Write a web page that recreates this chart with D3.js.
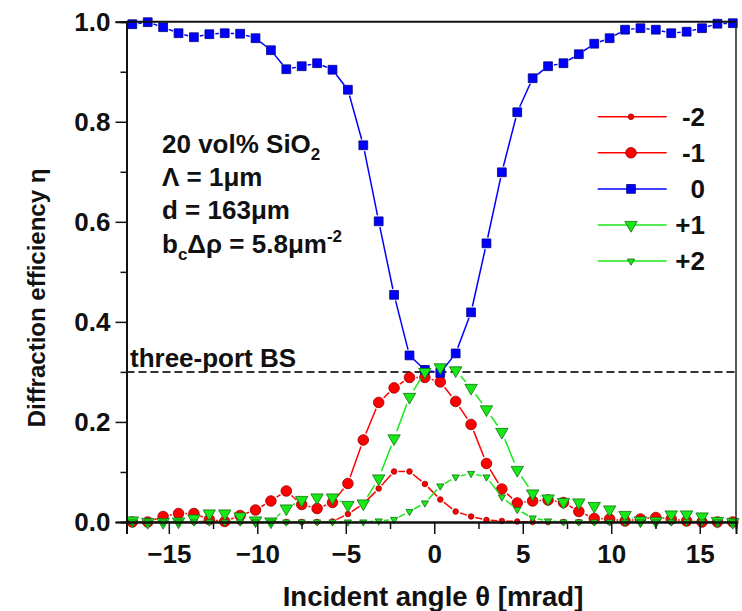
<!DOCTYPE html>
<html><head><meta charset="utf-8">
<script src="https://cdn.jsdelivr.net/npm/d3@7"></script>
<style>
body{margin:0;background:#fff}
svg{display:block}
text{font-family:"Liberation Sans",Arial,sans-serif;font-weight:bold;fill:#111}
</style>
</head><body>
<svg id="c" width="742" height="611"></svg>
<script>
// ---- data ----
const theta = [-17.06,-16.19,-15.32,-14.45,-13.58,-12.71,-11.84,-10.97,-10.10,-9.23,
  -8.36,-7.49,-6.62,-5.75,-4.88,-4.01,-3.14,-2.27,-1.40,-0.53,
  0.34,1.21,2.08,2.95,3.82,4.69,5.56,6.43,7.30,8.17,
  9.04,9.91,10.78,11.65,12.52,13.39,14.26,15.13,16.00,16.87];
const etaM2 = [0,0,0,0,0,0.002,0,0,0,0,
  0,0,0,0.001,0.016,0.036,0.067,0.101,0.101,0.076,
  0.045,0.021,0.011,0.004,0.002,0.001,0,0,0,0,
  0,0,0,0,0,0,0,0,0,0];
const etaM1 = [0,0,0.011,0.017,0.017,0.005,0.001,0.013,0.024,0.042,
  0.062,0.035,0.027,0.039,0.077,0.164,0.239,0.268,0.289,0.289,
  0.280,0.241,0.195,0.117,0.066,0.038,0.042,0.044,0.039,0.021,
  0.007,0.006,0.002,0.006,0.009,0.006,0.002,0,0,0];
const eta0 = [0.995,0.999,0.989,0.977,0.969,0.975,0.977,0.976,0.967,0.943,
  0.905,0.911,0.917,0.904,0.864,0.753,0.601,0.454,0.333,0.304,
  0.298,0.337,0.419,0.557,0.699,0.819,0.887,0.911,0.917,0.935,
  0.956,0.967,0.984,0.987,0.984,0.977,0.980,0.987,0.996,0.997];
const etaP1 = [0.003,0,0,0.001,0.007,0.017,0.017,0.011,0.003,0.001,
  0.027,0.044,0.049,0.049,0.034,0.037,0.087,0.167,0.250,0.300,
  0.309,0.303,0.268,0.225,0.180,0.104,0.057,0.047,0.040,0.039,
  0.032,0.025,0.014,0.003,0.002,0.015,0.015,0.011,0.002,0];
const etaP2 = [0,0,0,0,0,0,0,0,0,0,
  0,0,0,0,0,0,0.002,0.005,0.021,0.038,
  0.072,0.090,0.097,0.090,0.050,0.025,0.008,0.002,0,0,
  0,0,0,0,0,0,0,0,0,0];
const orderLabels = ["-2","-1","0","+1","+2"];
const xMajorTicks = [-15,-10,-5,0,5,10,15];
const xMinorTicks = [-12.5,-7.5,-2.5,2.5,7.5,12.5];
const yMajorTicks = [0,0.2,0.4,0.6,0.8,1.0];
const yMinorTicks = [0.1,0.3,0.5,0.7,0.9];
const bsLevel = 0.3;

// ---- styles ----
const RED="#ff0000", BLUE="#0000ff", GREEN="#18e818";
const series = [
  {label:orderLabels[0], values:etaM2, color:RED,  edge:"#a00000", shape:"circle",   size:2.8},
  {label:orderLabels[1], values:etaM1, color:RED,  edge:"#900000", shape:"circle",   size:5.3},
  {label:orderLabels[2], values:eta0,  color:BLUE, edge:"#000080", shape:"square",   size:4.4},
  {label:orderLabels[3], values:etaP1, color:GREEN,edge:"#107010", shape:"triangle", size:6.2},
  {label:orderLabels[4], values:etaP2, color:GREEN,edge:"#107010", shape:"triangle", size:3.6}
];

const svg = d3.select("#c");
const L=126.5, R=736, T=21.7, B=522;
const x = d3.scaleLinear().domain([-17.39,17.05]).range([L,R]);
const y = d3.scaleLinear().domain([0,1]).range([B,T]);

// dashed beam-splitter line
svg.append("line").attr("x1",L).attr("x2",R).attr("y1",y(bsLevel)).attr("y2",y(bsLevel))
  .attr("stroke","#333").attr("stroke-width",2).attr("stroke-dasharray","8,4");

function markerPath(shape,size){
  if(shape==="circle") return d3.symbol().type(d3.symbolCircle).size(Math.PI*size*size)();
  if(shape==="square") return d3.symbol().type(d3.symbolSquare).size(4*size*size)();
  const s=2*size; return d3.symbol().type(d3.symbolTriangle).size(Math.sqrt(3)/4*s*s)();
}
function drawMarker(g,shape,size,cx,cy,fill,edge){
  g.append("path").attr("d",markerPath(shape,size))
   .attr("transform",`translate(${cx},${cy})`+(shape==="triangle"?" rotate(180)":""))
   .attr("fill",fill).attr("stroke",edge).attr("stroke-width",0.8);
}

series.forEach(s=>{
  const g = svg.append("g");
  const pts = theta.map((t,i)=>[x(t), y(s.values[i])]);
  const gap = s.size + 1.6;
  for(let i=0;i<pts.length-1;i++){
    const [x0,y0]=pts[i],[x1,y1]=pts[i+1];
    const dx=x1-x0, dy=y1-y0, len=Math.hypot(dx,dy);
    if(len<=2*gap+0.5) continue;
    const ux=dx/len, uy=dy/len;
    g.append("line").attr("x1",x0+ux*gap).attr("y1",y0+uy*gap)
     .attr("x2",x1-ux*gap).attr("y2",y1-uy*gap)
     .attr("stroke",s.color).attr("stroke-width",1.5);
  }
  pts.forEach(p=>drawMarker(g,s.shape,s.size,p[0],p[1],s.color,s.edge));
});

// frame
svg.append("line").attr("x1",L).attr("x2",R).attr("y1",T).attr("y2",T).attr("stroke","#111").attr("stroke-width",2);
svg.append("line").attr("x1",R).attr("x2",R).attr("y1",T).attr("y2",B).attr("stroke","#222").attr("stroke-width",1.5);

// axes
const fs = 26;
svg.append("g").attr("transform",`translate(0,${B})`)
  .call(d3.axisBottom(x).tickValues(xMajorTicks).tickSize(12).tickPadding(11).tickFormat(d3.format("d")));
svg.append("g").attr("transform",`translate(0,${B})`)
  .call(d3.axisBottom(x).tickValues(xMinorTicks).tickSize(7).tickFormat(""));
svg.append("g").attr("transform",`translate(${L},0)`)
  .call(d3.axisLeft(y).tickValues(yMajorTicks).tickSize(11).tickPadding(5).tickFormat(d3.format(".1f")));
svg.append("g").attr("transform",`translate(${L},0)`)
  .call(d3.axisLeft(y).tickValues(yMinorTicks).tickSize(6).tickFormat(""));
svg.selectAll(".domain").attr("stroke","#111").attr("stroke-width",2);
svg.selectAll(".tick line").attr("stroke","#111").attr("stroke-width",1.5);
svg.selectAll(".tick text").attr("font-size",fs).attr("font-family",null).attr("fill","#111");

// axis titles
svg.append("text").attr("x",433).attr("y",606).attr("text-anchor","middle").attr("font-size",27.5)
  .text("Incident angle θ [mrad]");
svg.append("text").attr("transform","translate(45,298) rotate(-90)").attr("text-anchor","middle")
  .attr("font-size",24).text("Diffraction efficiency η");

// annotations
const ann = svg.append("g").attr("font-size",fs);
let t = ann.append("text").attr("x",162).attr("y",153);
t.append("tspan").text("20 vol% SiO");
t.append("tspan").attr("font-size",17).attr("dy",7).text("2");
ann.append("text").attr("x",162).attr("y",186).text("Λ = 1μm");
ann.append("text").attr("x",162).attr("y",219).text("d = 163μm");
t = ann.append("text").attr("x",162).attr("y",253);
t.append("tspan").text("b");
t.append("tspan").attr("font-size",17).attr("dy",7).text("c");
t.append("tspan").attr("dy",-7).text("Δρ = 5.8μm");
t.append("tspan").attr("font-size",17).attr("dy",-11).text("-2");
ann.append("text").attr("x",130).attr("y",366.5).text("three-port BS");

// legend
const leg = svg.append("g");
series.forEach((s,i)=>{
  const ry = 116.7 + 36.1*i;
  leg.append("line").attr("x1",597.7).attr("x2",666.7).attr("y1",ry).attr("y2",ry)
    .attr("stroke",s.color).attr("stroke-width",1.5);
  drawMarker(leg,s.shape,s.size,631,ry,s.color,s.edge);
  leg.append("text").attr("x",705).attr("y",ry+9).attr("text-anchor","end").attr("font-size",fs).text(s.label);
});
</script>
</body></html>
